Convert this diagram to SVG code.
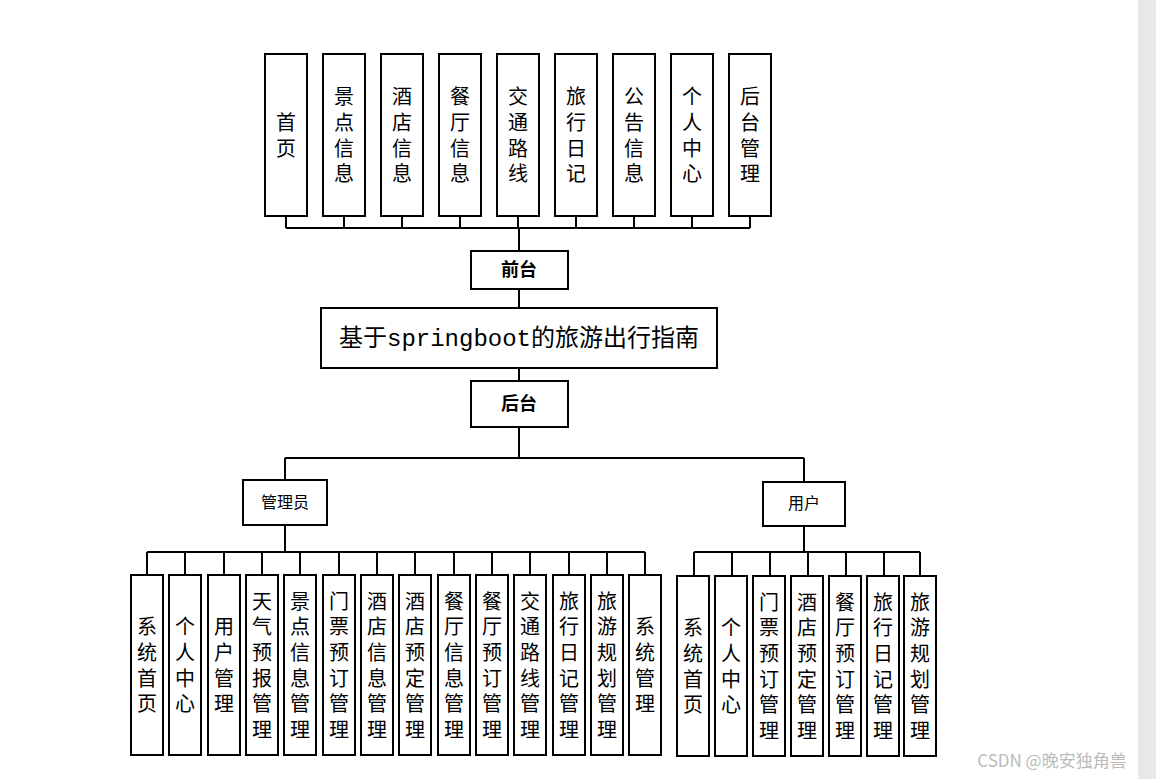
<svg xmlns="http://www.w3.org/2000/svg" width="1156" height="779" viewBox="0 0 1156 779">
<style>
rect{fill:#fff;stroke:#000;stroke-width:2}
.c path{stroke:#000;stroke-width:2;fill:none}
text{font-family:"Noto Sans CJK SC","Liberation Serif",serif;fill:#000;text-anchor:middle}
.v text{font-size:20px;writing-mode:vertical-rl;letter-spacing:5.6px}
.b{font-size:18px;font-weight:bold}
.m{font-size:16px}
</style>
<rect x="1138" y="0" width="18" height="779" style="fill:#e8e8e8;stroke:none"/>
<g class="c">
<path d="M286 216V228M344 216V228M402 216V228M460 216V228M518 216V228M576 216V228M634 216V228M692 216V228M750 216V228M286 228H750M519 228V251M519 289V308M519 368V381M519 427V458M285 458H804M285 458V480M804 458V482"/>
<path d="M285 525V552M147 552H645M147 552V575M185 552V575M224 552V575M262 552V575M300 552V575M339 552V575M377 552V575M415 552V575M454 552V575M492 552V575M530 552V575M569 552V575M607 552V575M645 552V575"/>
<path d="M804 526V552M694 552H920M694 552V576M732 552V576M770 552V576M808 552V576M846 552V576M884 552V576M920 552V576"/>
</g>
<g id="top" class="v">
<g><rect x="265" y="54" width="42" height="162"/><text x="286" y="138">首页</text></g>
<g><rect x="323" y="54" width="42" height="162"/><text x="344" y="138">景点信息</text></g>
<g><rect x="381" y="54" width="42" height="162"/><text x="402" y="138">酒店信息</text></g>
<g><rect x="439" y="54" width="42" height="162"/><text x="460" y="138">餐厅信息</text></g>
<g><rect x="497" y="54" width="42" height="162"/><text x="518" y="138">交通路线</text></g>
<g><rect x="555" y="54" width="42" height="162"/><text x="576" y="138">旅行日记</text></g>
<g><rect x="613" y="54" width="42" height="162"/><text x="634" y="138">公告信息</text></g>
<g><rect x="671" y="54" width="42" height="162"/><text x="692" y="138">个人中心</text></g>
<g><rect x="729" y="54" width="42" height="162"/><text x="750" y="138">后台管理</text></g>
</g>
<g id="qiantai"><rect x="471" y="251" width="97" height="38"/><text class="b" x="519" y="276">前台</text></g>
<g id="main"><rect x="321" y="308" width="396" height="60"/><text x="519" y="346" style="font-size:24px;font-family:'Liberation Mono','Noto Sans CJK SC',monospace">基于springboot的旅游出行指南</text></g>
<g id="houtai"><rect x="471" y="381" width="97" height="46"/><text class="b" x="519" y="410">后台</text></g>
<g id="admin"><rect x="243" y="480" width="84" height="45"/><text class="m" x="285" y="508">管理员</text></g>
<g id="user"><rect x="763" y="482" width="82" height="44"/><text class="m" x="804" y="509">用户</text></g>
<g id="adminItems" class="v">
<g><rect x="131" y="575" width="32" height="180"/><text x="147" y="668">系统首页</text></g>
<g><rect x="169" y="575" width="32" height="180"/><text x="185" y="668">个人中心</text></g>
<g><rect x="208" y="575" width="32" height="180"/><text x="224" y="668">用户管理</text></g>
<g><rect x="246" y="575" width="32" height="180"/><text x="262" y="668">天气预报管理</text></g>
<g><rect x="284" y="575" width="32" height="180"/><text x="300" y="668">景点信息管理</text></g>
<g><rect x="323" y="575" width="32" height="180"/><text x="339" y="668">门票预订管理</text></g>
<g><rect x="361" y="575" width="32" height="180"/><text x="377" y="668">酒店信息管理</text></g>
<g><rect x="399" y="575" width="32" height="180"/><text x="415" y="668">酒店预定管理</text></g>
<g><rect x="438" y="575" width="32" height="180"/><text x="454" y="668">餐厅信息管理</text></g>
<g><rect x="476" y="575" width="32" height="180"/><text x="492" y="668">餐厅预订管理</text></g>
<g><rect x="514" y="575" width="32" height="180"/><text x="530" y="668">交通路线管理</text></g>
<g><rect x="553" y="575" width="32" height="180"/><text x="569" y="668">旅行日记管理</text></g>
<g><rect x="591" y="575" width="32" height="180"/><text x="607" y="668">旅游规划管理</text></g>
<g><rect x="629" y="575" width="32" height="180"/><text x="645" y="668">系统管理</text></g>
</g>
<g id="userItems" class="v">
<g><rect x="677" y="576" width="32" height="180"/><text x="693" y="669">系统首页</text></g>
<g><rect x="715" y="576" width="32" height="180"/><text x="731" y="669">个人中心</text></g>
<g><rect x="753" y="576" width="32" height="180"/><text x="769" y="669">门票预订管理</text></g>
<g><rect x="791" y="576" width="32" height="180"/><text x="807" y="669">酒店预定管理</text></g>
<g><rect x="829" y="576" width="32" height="180"/><text x="845" y="669">餐厅预订管理</text></g>
<g><rect x="867" y="576" width="32" height="180"/><text x="883" y="669">旅行日记管理</text></g>
<g><rect x="904" y="576" width="32" height="180"/><text x="920" y="669">旅游规划管理</text></g>
</g>
<text x="1052" y="767" style="font-size:17px;fill:#bbb;font-family:'Noto Sans CJK SC',sans-serif">CSDN @晚安独角兽</text>
</svg>
